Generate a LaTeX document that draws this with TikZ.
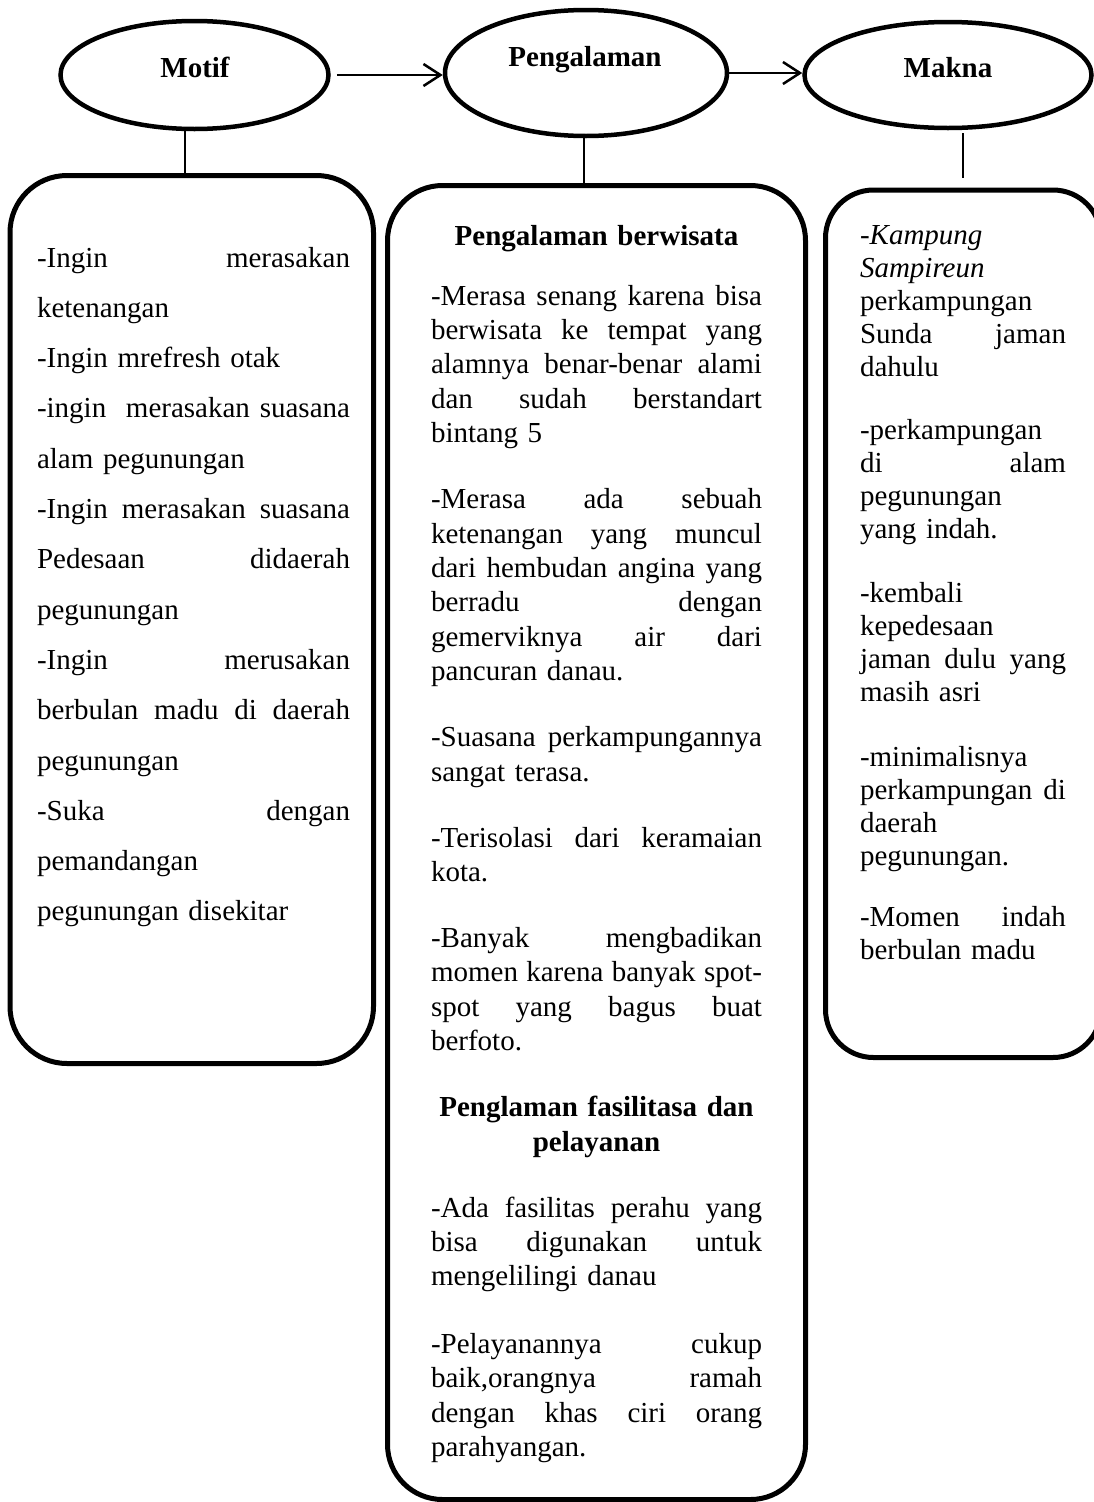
\documentclass[tikz,border=0pt]{standalone}
\usepackage{fontspec}
\setmainfont{Liberation Serif}
\usetikzlibrary{arrows.meta,shapes.geometric}
\setlength\parskip{0pt}
\newcommand\jline[1]{\leavevmode\hbox to\linewidth{\spaceskip=\fontdimen2\font plus 1fil\relax\xspaceskip=\spaceskip #1}\par}
\newcommand\pline[1]{#1\par}
\newcommand\ctrline[1]{\leavevmode\hbox to\linewidth{\hfil\bfseries #1\hfil}\par}
\begin{document}
\begin{tikzpicture}[x=1pt, y=-1pt,
  oval/.style={draw, ellipse, line width=4.5pt, inner sep=0pt},
  rbox/.style={draw, rectangle, line width=5pt, inner sep=0pt},
  head/.style={font=\fontsize{29}{34}\selectfont\bfseries, inner sep=0pt},
  body/.style={anchor=base west, inner sep=0pt, outer sep=0pt},
  arr/.style={line width=2.5pt, -{Straight Barb[length=17pt, width=22pt, line width=2.5pt]}},
  conn/.style={line width=1.4pt}]
\path[use as bounding box, fill=white] (0,0) rectangle (1093,1502);

% ellipses
\node[oval, minimum width=268pt, minimum height=108pt] (motif) at (194.5,75) {};
\node[head] (motiflbl) at (195,67) {Motif};
\node[oval, minimum width=282pt, minimum height=126pt] (peng) at (586,73) {};
\node[head] (penglbl) at (585,60) {Pengalaman};
\node[oval, minimum width=287pt, minimum height=106pt] (makna) at (948,75) {};
\node[head] (maknalbl) at (948,68) {Makna};

% boxes
\node[rbox, rounded corners=57pt, minimum width=363.5pt, minimum height=888pt] (motifbox) at (191.75,619.5) {};
\node[rbox, rounded corners=55pt, minimum width=418pt, minimum height=1314pt] (pengbox) at (596.5,842.5) {};
\node[rbox, rounded corners=48pt, minimum width=275.5pt, minimum height=867.5pt] (maknabox) at (963.25,623.75) {};

% arrows
\path (motif.east) ++(6,0) coordinate (a1);
\draw[arr] (a1) -- (motif.east -| peng.west);
\draw[arr] (peng.east) -- (peng.east -| makna.west);

% vertical connectors
\coordinate (mcol) at (185,0);
\coordinate (pcol) at (584,0);
\coordinate (kcol) at (963,0);
\draw[conn] (motif.south -| mcol) -- (motifbox.north -| mcol);
\draw[conn] (peng.south -| pcol) -- (pengbox.north -| pcol);
\path (makna.south -| kcol) ++(0,3) coordinate (k1);
\path (maknabox.north -| kcol) ++(0,-10) coordinate (k2);
\draw[conn] (k1) -- (k2);

% texts
\node[body, text width=313pt, font=\fontsize{29}{50.3}\selectfont] (motiftxt) at (37,267) {%
\jline{-Ingin merasakan}
\pline{ketenangan}
\pline{-Ingin mrefresh otak}
\jline{-ingin \ merasakan suasana}
\pline{alam pegunungan}
\jline{-Ingin merasakan suasana}
\jline{Pedesaan didaerah}
\pline{pegunungan}
\jline{-Ingin merusakan}
\jline{berbulan madu di daerah}
\pline{pegunungan}
\jline{-Suka dengan}
\pline{pemandangan}
\pline{pegunungan disekitar}
};

\node[body, text width=331pt, font=\fontsize{29}{34.4}\selectfont] (pengtxt) at (431,245) {%
\ctrline{Pengalaman berwisata}\vspace{25.6pt}
\jline{-Merasa senang karena bisa}
\jline{berwisata ke tempat yang}
\jline{alamnya benar-benar alami}
\jline{dan sudah berstandart}
\pline{bintang 5}\vspace{31.6pt}
\jline{-Merasa ada sebuah}
\jline{ketenangan yang muncul}
\jline{dari hembudan angina yang}
\jline{berradu dengan}
\jline{gemerviknya air dari}
\pline{pancuran danau.}\vspace{31.6pt}
\jline{-Suasana perkampungannya}
\pline{sangat terasa.}\vspace{31.6pt}
\jline{-Terisolasi dari keramaian}
\pline{kota.}\vspace{31.6pt}
\jline{-Banyak mengbadikan}
\jline{momen karena banyak spot-}
\jline{spot yang bagus buat}
\pline{berfoto.}\vspace{31.6pt}
\ctrline{Penglaman fasilitasa dan}
\ctrline{pelayanan}\vspace{31.6pt}
\jline{-Ada fasilitas perahu yang}
\jline{bisa digunakan untuk}
\pline{mengelilingi danau}\vspace{33pt}
\jline{-Pelayanannya cukup}
\jline{baik,orangnya ramah}
\jline{dengan khas ciri orang}
\pline{parahyangan.}
};

\node[body, text width=206pt, font=\fontsize{29}{33}\selectfont] (maknatxt) at (860,244) {%
\pline{\textit{-Kampung}}
\pline{\textit{Sampireun}}
\pline{perkampungan}
\jline{Sunda jaman}
\pline{dahulu}\vspace{30pt}
\pline{-perkampungan}
\jline{di alam}
\pline{pegunungan}
\pline{yang indah.}\vspace{31pt}
\pline{-kembali}
\pline{kepedesaan}
\jline{jaman dulu yang}
\pline{masih asri}\vspace{32pt}
\pline{-minimalisnya}
\jline{perkampungan di}
\pline{daerah}
\pline{pegunungan.}\vspace{28pt}
\jline{-Momen indah}
\pline{berbulan madu}
};
\end{tikzpicture}
\end{document}
